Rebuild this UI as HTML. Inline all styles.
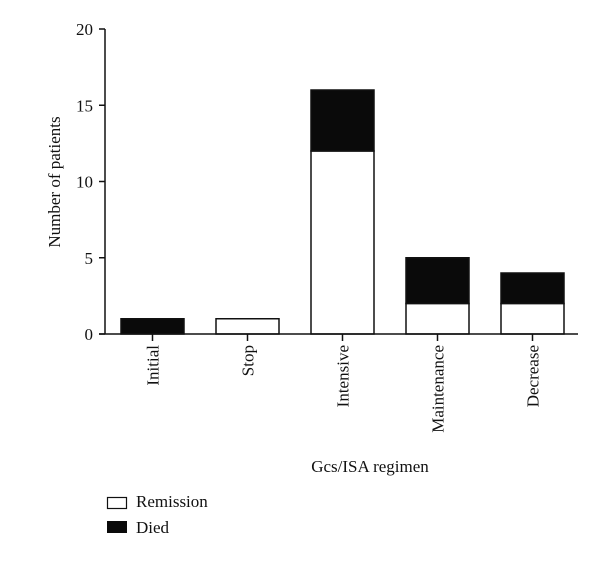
<!DOCTYPE html>
<html><head><meta charset="utf-8"><style>
body{margin:0;background:#fff}
svg text{font-family:"Liberation Serif",serif;fill:#111}
</style></head><body>
<svg id="chart" width="600" height="559" xmlns="http://www.w3.org/2000/svg">
<g id="plot"></g>
<text transform="translate(60,182) rotate(-90)" text-anchor="middle" font-size="17">Number of patients</text>
<text x="370" y="472" text-anchor="middle" font-size="17">Gcs/ISA regimen</text>
<g>
<rect x="107.5" y="497.5" width="19" height="11" fill="#fff" stroke="#111" stroke-width="1.2"/>
<text x="136" y="507" font-size="17">Remission</text>
<rect x="107" y="521" width="20" height="12" fill="#0a0a0a"/>
<text x="136" y="533" font-size="17">Died</text>
</g>
</svg>
<script>
const categories=["Initial","Stop","Intensive","Maintenance","Decrease"];
const remission=[0,1,12,2,2];
const died=[1,0,4,3,2];
const yTicks=[0,5,10,15,20];
const NS="http://www.w3.org/2000/svg";
const g=document.getElementById("plot");
const x0=105,y0=334,yTop=29,yMax=20,firstCenter=152.5,step=95,barW=63;
const y=v=>y0-(v/yMax)*(y0-yTop);
const xc=i=>firstCenter+i*step;
function mk(tag,attrs,name,txt){const e=document.createElementNS(NS,tag);for(const k in attrs)e.setAttribute(k,attrs[k]);


if(txt!==undefined)e.textContent=txt;g.appendChild(e);return e;}
categories.forEach((c,i)=>{
 const l=xc(i)-barW/2;
 if(remission[i]>0)mk('rect',{x:l,y:y(remission[i]),width:barW,height:y(0)-y(remission[i]),fill:'#fff',stroke:'#111','stroke-width':1.5},'bar-remission-'+c.toLowerCase());
 if(died[i]>0)mk('rect',{x:l,y:y(remission[i]+died[i]),width:barW,height:y(remission[i])-y(remission[i]+died[i]),fill:'#0a0a0a',stroke:'#111','stroke-width':1.5},'bar-died-'+c.toLowerCase());
 mk('line',{x1:xc(i),x2:xc(i),y1:y0,y2:y0+7,stroke:'#111','stroke-width':1.5},'x-tick');
 mk('text',{transform:`translate(${xc(i)+6},${y0+11}) rotate(-90)`,'text-anchor':'end','font-size':17},'x-tick-label',c);
});
mk('line',{x1:x0,x2:x0,y1:yTop,y2:y0,stroke:'#111','stroke-width':1.5},'y-axis');
mk('line',{x1:x0-6,x2:578,y1:y0,y2:y0,stroke:'#111','stroke-width':1.5},'x-axis');
yTicks.forEach(t=>{
 mk('line',{x1:x0-6,x2:x0,y1:y(t),y2:y(t),stroke:'#111','stroke-width':1.5},'y-tick');
 mk('text',{x:x0-12,y:y(t)+6,'text-anchor':'end','font-size':17},'y-tick-label',t);
});
</script>
</body></html>
